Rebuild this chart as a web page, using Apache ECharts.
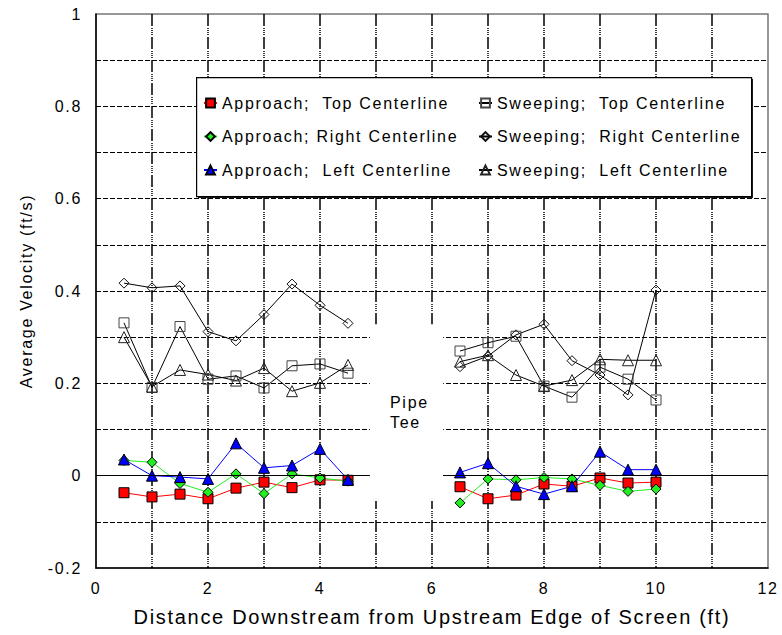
<!DOCTYPE html>
<html>
<head>
<meta charset="utf-8">
<script src="https://cdn.jsdelivr.net/npm/echarts@6/dist/echarts.min.js"></script>
<style>
  html, body { margin: 0; padding: 0; background: #fff; }
  #chart { width: 782px; height: 635px; letter-spacing: 1.7px; }
  #chart text { white-space: pre; }
</style>
</head>
<body>
<div id="chart"></div>
<script>
// ---- data ----
const xUpstream = [0.5, 1, 1.5, 2, 2.5, 3, 3.5, 4, 4.5];
const xDownstream = [6.5, 7, 7.5, 8, 8.5, 9, 9.5, 10];

const approachTopUp = [-0.037, -0.046, -0.040, -0.050, -0.027, -0.014, -0.026, -0.009, -0.010];
const approachTopDown = [-0.024, -0.050, -0.042, -0.018, -0.023, -0.005, -0.016, -0.014];

const approachRightUp = [0.033, 0.029, -0.017, -0.036, 0.004, -0.039, 0.004, -0.005, -0.012];
const approachRightDown = [-0.059, -0.007, -0.009, -0.004, -0.007, -0.021, -0.034, -0.029];

const approachLeftUp = [0.035, 0.000, -0.003, -0.007, 0.070, 0.017, 0.022, 0.058, -0.009];
const approachLeftDown = [0.007, 0.027, -0.023, -0.040, -0.023, 0.052, 0.013, 0.013];

const sweepTopUp = [0.331, 0.191, 0.323, 0.209, 0.216, 0.190, 0.238, 0.242, 0.222];
const sweepTopDown = [0.270, 0.288, 0.302, 0.194, 0.170, 0.235, 0.209, 0.164];

const sweepRightUp = [0.417, 0.407, 0.411, 0.312, 0.292, 0.349, 0.415, 0.369, 0.330];
const sweepRightDown = [0.236, 0.259, 0.305, 0.328, 0.249, 0.218, 0.175, 0.402];

const sweepLeftUp = [0.300, 0.193, 0.229, 0.219, 0.206, 0.233, 0.183, 0.201, 0.240];
const sweepLeftDown = [0.247, 0.261, 0.218, 0.194, 0.207, 0.252, 0.250, 0.250];

const seriesNames = [
  'Approach;  Top Centerline',
  'Approach; Right Centerline',
  'Approach;  Left Centerline',
  'Sweeping;  Top Centerline',
  'Sweeping;  Right Centerline',
  'Sweeping;  Left Centerline'
];
const pipeTeeX = [4.89, 6.2];
const pipeTeeY = [-0.055, 0.328];
const xTicksLabeled = [0, 2, 4, 6, 8, 10, 12];

// ---- build ----
function pairs(up, down) {
  const out = xUpstream.map((x, i) => [x, up[i]]);
  out.push([5.5, null]);
  xDownstream.forEach((x, i) => out.push([x, down[i]]));
  return out;
}

function approachSeries(name, symbol, size, color, up, down) {
  return {
    name, type: 'line', symbol, symbolSize: size, showAllSymbol: true,
    data: pairs(up, down), connectNulls: false,
    lineStyle: { color, width: 1 },
    itemStyle: { color, borderColor: '#000', borderWidth: 1 },
    emphasis: { disabled: true }
  };
}
function sweepSeries(name, symbol, size, stroke, up, down) {
  return {
    name, type: 'line', symbol, symbolSize: size, showAllSymbol: true,
    data: pairs(up, down), connectNulls: false,
    lineStyle: { color: '#000', width: 1 },
    itemStyle: { color: 'rgba(255,255,255,0)', borderColor: stroke, borderWidth: 1 },
    emphasis: { disabled: true }
  };
}

const series = [
  sweepSeries(seriesNames[3], 'rect', 10, '#444', sweepTopUp, sweepTopDown),
  sweepSeries(seriesNames[4], 'diamond', 10, '#111', sweepRightUp, sweepRightDown),
  sweepSeries(seriesNames[5], 'triangle', 11, '#222', sweepLeftUp, sweepLeftDown),
  approachSeries(seriesNames[0], 'rect', 10, '#ff0000', approachTopUp, approachTopDown),
  approachSeries(seriesNames[1], 'diamond', 10, '#22ee22', approachRightUp, approachRightDown),
  approachSeries(seriesNames[2], 'triangle', 11, '#0000ff', approachLeftUp, approachLeftDown)
];

// pipe tee gap and solid zero line
series[0].markArea = {
  silent: true,
  itemStyle: { color: '#fff' },
  label: { show: false },
  data: [[{ coord: [pipeTeeX[0], pipeTeeY[1]] }, { coord: [pipeTeeX[1], pipeTeeY[0]] }]]
};
series[0].markLine = {
  silent: true,
  symbol: ['none', 'none'],
  label: { show: false },
  lineStyle: { color: '#000', width: 1, type: 'solid' },
  data: [
    [{ coord: [0, 0] }, { coord: [pipeTeeX[0], 0] }],
    [{ coord: [pipeTeeX[1], 0] }, { coord: [12, 0] }]
  ]
};

const chart = echarts.init(document.getElementById('chart'), null, { renderer: 'svg' });
chart.setOption({
  animation: false,
  backgroundColor: '#fff',
  textStyle: { fontFamily: 'Liberation Sans, Arial, sans-serif', color: '#000' },
  grid: { left: 96, right: 14, top: 14, bottom: 67, show: true, borderColor: '#777', borderWidth: 1.5, backgroundColor: 'transparent' },
  xAxis: {
    type: 'value', min: 0, max: 12, interval: 1,
    name: 'Distance Downstream from Upstream Edge of Screen (ft)',
    nameLocation: 'middle', nameGap: 39,
    nameTextStyle: { fontSize: 20, color: '#000' },
    axisLine: { show: true, onZero: false, lineStyle: { color: '#000', width: 1.5 } },
    axisTick: { show: false },
    axisLabel: {
      fontSize: 16, color: '#000', margin: 12,
      formatter: v => (xTicksLabeled.indexOf(v) >= 0 ? String(v) : '')
    },
    splitLine: { show: true, showMinLine: false, showMaxLine: false,
      lineStyle: { color: '#000', width: 1.5, type: [12, 2, 1, 1, 1, 1, 1, 1, 1, 2] } }
  },
  yAxis: {
    type: 'value', min: -0.2, max: 1, interval: 0.1,
    name: 'Average Velocity (ft/s)',
    nameLocation: 'middle', nameGap: 62,
    nameTextStyle: { fontSize: 16, color: '#000' },
    axisLine: { show: true, onZero: false, lineStyle: { color: '#000', width: 1.5 } },
    axisTick: { show: false },
    axisLabel: {
      fontSize: 16, color: '#000', margin: 14,
      formatter: v => { const k = Math.round(v * 10); return k % 2 === 0 ? String(k / 10) : ''; }
    },
    splitLine: { show: true, showMinLine: false, showMaxLine: false,
      lineStyle: { color: '#000', width: 1, type: [5, 2] } }
  },
  legend: [
    {
      data: seriesNames.slice(0, 3), orient: 'vertical', left: 203, top: 95, padding: 0,
      itemWidth: 13, itemHeight: 11, itemGap: 17.5, z: 20, selectedMode: false,
      textStyle: { fontSize: 16, color: '#000', lineHeight: 16 }
    },
    {
      data: seriesNames.slice(3, 6), orient: 'vertical', left: 478, top: 95, padding: 0,
      itemWidth: 13, itemHeight: 11, itemGap: 17.5, z: 20, selectedMode: false,
      textStyle: { fontSize: 16, color: '#000', lineHeight: 16 }
    }
  ],
  graphic: [
    { type: 'rect', left: 198, top: 79, z: 10, silent: true,
      shape: { width: 555, height: 119 }, style: { fill: '#222' } },
    { type: 'rect', left: 196, top: 77, z: 11, silent: true,
      shape: { width: 555, height: 119 }, style: { fill: '#fff', stroke: '#000', lineWidth: 1.2 } },
    { type: 'text', left: 390, top: 392, z: 12, silent: true,
      style: { text: 'Pipe\nTee', fontSize: 16, lineHeight: 20, fill: '#000', fontFamily: 'Liberation Sans, Arial, sans-serif' } }
  ],
  series
});
</script>
</body>
</html>
